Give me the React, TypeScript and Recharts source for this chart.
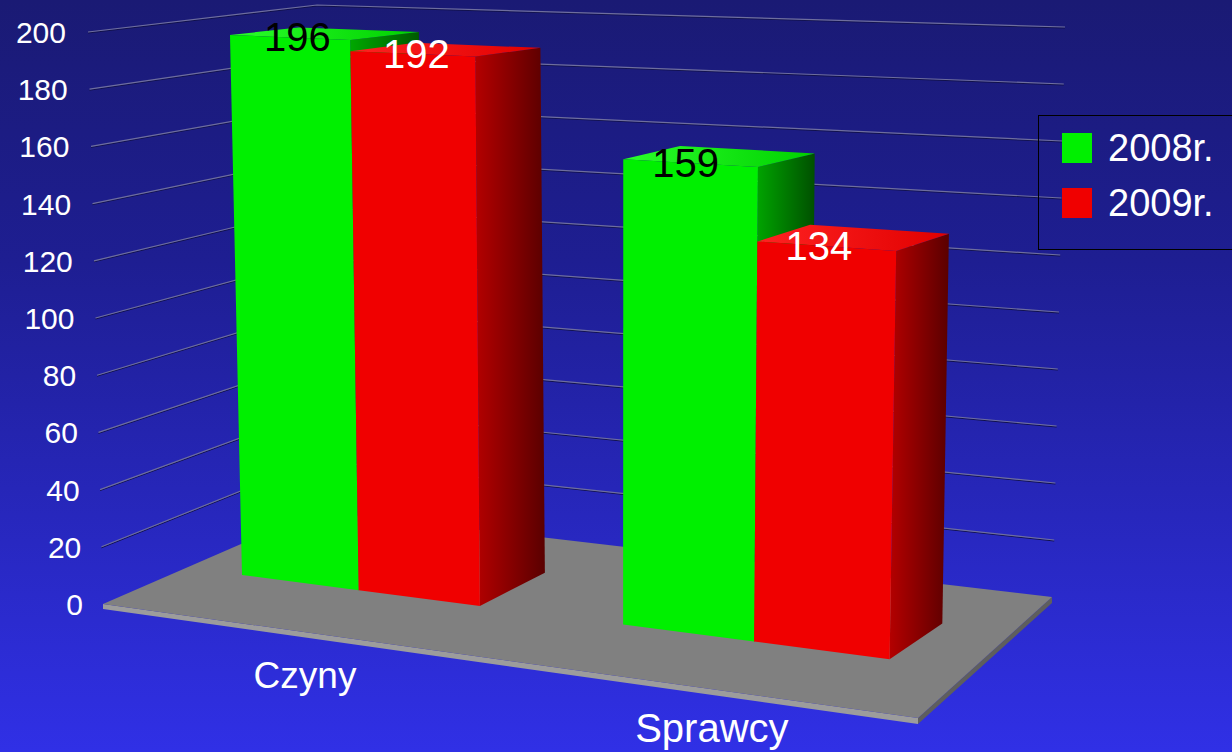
import { BarChart, Bar, XAxis, YAxis, CartesianGrid, Legend, LabelList } from 'recharts';

const categories = ['Czyny', 'Sprawcy'];
const values2008 = [196, 159];
const values2009 = [192, 134];
const yTicks = [0, 20, 40, 60, 80, 100, 120, 140, 160, 180, 200];

const data = categories.map((name, i) => ({
  name,
  y2008: values2008[i],
  y2009: values2009[i],
}));

const FONT = '"Liberation Sans", Arial, sans-serif';

// flat plot area (the y axis matches the labels on the left wall)
const PLOT_BOTTOM = 604;
const PLOT_H = 572;

// a rough perspective: bars stand further back on the floor and grow to the right
const persX = (x: number) => {
  const d = x - 236;
  return 242 + d * 0.915 + d * d * 0.000146;
};
const baseY = (X: number, bottom: number) => bottom - 29 + (X - 242) * 0.13;
const hScale = (X: number) => (2.755 + (X - 242) * 0.00045) / 2.86;
const topY = (X: number, bottom: number, h: number) => baseY(X, bottom) - h * hScale(X);
// verticals lean away from x=617 as they go up
const lean = (X: number, hs: number) => (X - 617) * hs * 0.0000593;
// depth of the boxes, it gets steeper lower down
const depthX = (X: number) => 65 - (X - 480) * 0.03;
const depthY = (Y: number) => -6 - 0.045 * Y;

const GREEN = { id: 'g', front: '#00f000', top1: '#2aff2a', top2: '#00d000', side1: '#00a800', side2: '#005000' };
const RED = { id: 'r', front: '#f00000', top1: '#ff2222', top2: '#e00000', side1: '#b40000', side2: '#5a0000' };

const Box3D = (props: any) => {
  const { x, y, width, height, index, scheme } = props;
  if (height == null || height <= 0) return null;
  const bottom = y + height;
  const x0 = persX(x);
  const x1 = persX(x + width);
  const b0 = baseY(x0, bottom);
  const b1 = baseY(x1, bottom);
  const t0 = topY(x0, bottom, height);
  const t1 = topY(x1, bottom, height);
  const tx0 = x0 + lean(x0, b0 - t0);
  const tx1 = x1 + lean(x1, b1 - t1);
  const dx = depthX(x1);
  const dyT = depthY(t1);
  const dyB = depthY(b1);
  const gid = `${scheme.id}-${index}`;
  return (
    <g>
      <defs>
        <linearGradient id={`side-${gid}`} x1="0" y1="0" x2="1" y2="0">
          <stop offset="0%" stopColor={scheme.side1} />
          <stop offset="100%" stopColor={scheme.side2} />
        </linearGradient>
        <linearGradient id={`top-${gid}`} x1="0" y1="0" x2="1" y2="0">
          <stop offset="0%" stopColor={scheme.top1} />
          <stop offset="100%" stopColor={scheme.top2} />
        </linearGradient>
      </defs>
      <polygon
        points={`${tx1},${t1} ${tx1 + dx},${t1 + dyT} ${x1 + dx},${b1 + dyB} ${x1},${b1}`}
        fill={`url(#side-${gid})`}
      />
      <polygon
        points={`${tx0},${t0} ${tx0 + dx},${t0 + depthY(t0)} ${tx1 + dx},${t1 + dyT} ${tx1},${t1}`}
        fill={`url(#top-${gid})`}
      />
      <polygon points={`${tx0},${t0} ${tx1},${t1} ${x1},${b1} ${x0},${b0}`} fill={scheme.front} />
    </g>
  );
};

const valueLabel = (color: string) => (p: any) => {
  const { x, y, width, height, value } = p;
  const bottom = Number(y) + Number(height);
  const x0 = persX(Number(x));
  const x1 = persX(Number(x) + Number(width));
  const cx = (x0 + x1) / 2;
  const ty = topY(cx, bottom, Number(height)) + 14;
  return (
    <text x={cx - 3} y={ty} textAnchor="middle" fill={color} fontSize={40} fontFamily={FONT}>
      {value}
    </text>
  );
};

const Floor = ({ y }: { y: number }) => (
  <g>
    <polygon points={`103,${y} 918,${y + 114} 918,${y + 120} 103,${y + 5}`} fill="#9c9c9c" />
    <polygon points={`918,${y + 114} 1052,${y - 7} 1052,${y - 1} 918,${y + 120}`} fill="#5e5e5e" />
    <polygon points={`103,${y} 317,${y - 93} 1052,${y - 7} 918,${y + 114}`} fill="#808080" />
  </g>
);

const renderGridLine = (p: any) => {
  const y = Number(p.y1);
  const f = (PLOT_BOTTOM - y) / PLOT_H;
  if (f < 0.001) return <Floor key={p.key} y={y} />;
  const lx = 103 - 15 * f;
  const cy = 511 - 506 * f;
  const rx = 1053 + 12 * f;
  const ry = 597 - 570 * f;
  const pts = `${lx},${y} 317,${cy} ${rx},${ry}`;
  const ptsDark = `${lx},${y + 1} 317,${cy + 1} ${rx},${ry + 1}`;
  return (
    <g key={p.key}>
      <polyline points={ptsDark} fill="none" stroke="#12124a" strokeWidth={1} />
      <polyline points={pts} fill="none" stroke="#6e6e9e" strokeWidth={1.2} />
    </g>
  );
};

const YTick = (p: any) => {
  const v = p.payload.value;
  const f = v / 200;
  return (
    <text x={66 + (1 - f) * 17} y={p.y + 11} textAnchor="end" fill="#ffffff" fontSize={30} fontFamily={FONT}>
      {v}
    </text>
  );
};

const XTick = (p: any) => {
  const tx = p.x - 56 + (p.x - 361) * 0.038;
  const ty = 688 + (tx - 305) * 0.133;
  const fs = 37 + (tx - 305) * 0.0074;
  return (
    <text x={tx} y={ty} textAnchor="middle" fill="#ffffff" fontSize={fs} fontFamily={FONT}>
      {p.payload.value}
    </text>
  );
};

const LegendBox = (props: any) => {
  const items = props.payload || [];
  return (
    <div
      style={{
        position: 'relative',
        width: 200,
        height: 135,
        border: '1px solid #000',
        boxSizing: 'border-box',
        fontFamily: FONT,
      }}
    >
      {items.map((entry: any, i: number) => (
        <div key={entry.value} style={{ position: 'absolute', left: 23, top: 17 + i * 55, display: 'flex', alignItems: 'center' }}>
          <div style={{ width: 30, height: 30, background: entry.color }} />
          <span style={{ marginLeft: 16, color: '#fff', fontSize: 38, lineHeight: '30px' }}>{entry.value}</span>
        </div>
      ))}
    </div>
  );
};

export default function App() {
  return (
    <div
      style={{
        position: 'absolute',
        left: 0,
        top: 0,
        width: 1232,
        height: 752,
        overflow: 'hidden',
        background: 'linear-gradient(180deg, #1a1a74 0%, #1e1e92 35%, #2626b8 65%, #3030e6 100%)',
        fontFamily: FONT,
      }}
    >
      <BarChart
        width={1232}
        height={752}
        data={data}
        margin={{ top: 32, right: 283, bottom: 0, left: 0 }}
        barGap={0}
      >
        <CartesianGrid vertical={false} horizontal={renderGridLine} />
        <XAxis dataKey="name" axisLine={false} tickLine={false} height={148} tick={<XTick />} interval={0} />
        <YAxis
          domain={[0, 200]}
          ticks={yTicks}
          interval={0}
          axisLine={false}
          tickLine={false}
          width={165}
          tick={<YTick />}
        />
        <Legend
          layout="vertical"
          align="center"
          verticalAlign="middle"
          content={<LegendBox />}
          wrapperStyle={{ position: 'absolute', left: 1038, top: 115, width: 200, height: 135 }}
        />
        <Bar
          dataKey="y2008"
          name="2008r."
          fill="#00f000"
          barSize={125}
          isAnimationActive={false}
          shape={(p: any) => <Box3D {...p} scheme={GREEN} />}
        >
          <LabelList dataKey="y2008" content={valueLabel('#000000')} />
        </Bar>
        <Bar
          dataKey="y2009"
          name="2009r."
          fill="#f00000"
          barSize={125}
          isAnimationActive={false}
          shape={(p: any) => <Box3D {...p} scheme={RED} />}
        >
          <LabelList dataKey="y2009" content={valueLabel('#ffffff')} />
        </Bar>
      </BarChart>
    </div>
  );
}
